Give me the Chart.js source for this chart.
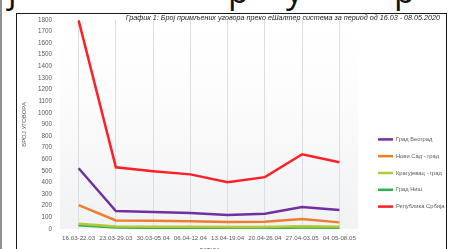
<!DOCTYPE html>
<html>
<head>
<meta charset="utf-8">
<script src="https://cdn.jsdelivr.net/npm/chart.js@4"></script>
<style>
  html, body { margin: 0; padding: 0; background: #fff; overflow: hidden; }
  body { width: 454px; height: 249px; position: relative; }
  #pageEdge { position: absolute; left: 0; top: 0; width: 2px; height: 249px; background: #8f8f8f; }
  #heading span { position: absolute; top: -33px; font: 34px "Open Sans", sans-serif; color: #111; }
  #frame { position: absolute; left: 16px; top: 13px; width: 429px; height: 300px; border: 1.5px solid #1a1a1a; }
  #chartTitle { position: absolute; right: 14px; top: 13px; font: italic 7.2px "Liberation Sans", sans-serif; color: #222; white-space: nowrap; }
  #wrap { position: absolute; left: 17px; top: 8px; width: 437px; height: 330px; }
</style>
</head>
<body>
<div id="pageEdge"></div>
<div id="heading"><span style="left:8px">ј</span><span style="left:228px">р</span><span style="left:286px">у</span><span style="left:394px">р</span></div>
<div id="frame"></div>
<div id="wrap"><canvas id="myChart"></canvas></div>
<div id="chartTitle">График 1: Број примљених уговора преко еШалтер система за период од 16.03 - 08.05.2020</div>
<script>
const weeks = ['16.03-22.03', '23.03-29.03', '30.03-05.04', '06.04-12.04', '13.04-19.04', '20.04-26.04', '27.04-03.05', '04.05-08.05'];
const beograd = [523, 154, 146, 137, 120, 132, 189, 163];
const noviSad = [206, 73, 72, 66, 60, 63, 86, 57];
const kragujevac = [45, 22, 20, 19, 17, 18, 24, 20];
const nis = [32, 12, 10, 10, 9, 9, 12, 11];
const srbija = [1795, 531, 497, 470, 403, 446, 643, 574];

const tickColor = '#595959';

// light gradient behind the plot, like the Excel original
const plotBackground = {
    id: 'plotBackground',
    beforeDraw(chart) {
        const {ctx, chartArea} = chart;
        const g = ctx.createLinearGradient(0, chartArea.top, 0, chartArea.bottom);
        g.addColorStop(0, '#ffffff');
        g.addColorStop(0.3, '#fdfdfd');
        g.addColorStop(1, '#f1f2f4');
        ctx.save();
        ctx.fillStyle = g;
        ctx.fillRect(chartArea.left, chartArea.top, chartArea.right - chartArea.left, chartArea.bottom - chartArea.top);
        ctx.restore();
    }
};

function series(label, data, color) {
    return {
        label: label,
        data: data,
        borderColor: color,
        backgroundColor: color,
        borderWidth: 2.5,
        pointRadius: 0,
        tension: 0
    };
}

const ctx = document.getElementById('myChart').getContext('2d');
new Chart(ctx, {
    type: 'line',
    data: {
        labels: weeks,
        datasets: [
            series('Град Београд', beograd, '#7030a0'),
            series('Нови Сад - град', noviSad, '#ed7d31'),
            series('Крагујевац - град', kragujevac, '#b3c83a'),
            series('Град Ниш', nis, '#2db24a'),
            series('Република Србија', srbija, '#fe1f27')
        ]
    },
    options: {
        responsive: true,
        maintainAspectRatio: false,
        animation: false,
        layout: { padding: 0 },
        plugins: {
            tooltip: { enabled: false },
            legend: {
                position: 'right',
                align: 'center',
                maxWidth: 87,
                labels: {
                    color: tickColor,
                    font: { family: 'Liberation Sans', size: 5.8 },
                    usePointStyle: true,
                    pointStyle: 'line',
                    boxWidth: 15,
                    pointStyleWidth: 15,
                    boxHeight: 6,
                    padding: 11
                }
            }
        },
        scales: {
            x: {
                offset: true,
                grid: { display: true, offset: false, color: '#dedede', lineWidth: 1, drawTicks: false },
                border: { display: false },
                ticks: {
                    color: tickColor,
                    font: { family: 'Liberation Sans', size: 6.2 },
                    padding: 6,
                    maxRotation: 0,
                    autoSkip: false
                },
                title: {
                    display: true,
                    text: 'ДАТУМ',
                    color: tickColor,
                    font: { family: 'Liberation Sans', size: 6 },
                    padding: { top: 0, bottom: 84 }
                },
                afterFit(scale) { scale.height = 109; }
            },
            y: {
                min: 0,
                max: 1800,
                grid: { display: false, drawTicks: false },
                border: { display: false },
                ticks: {
                    stepSize: 100,
                    color: tickColor,
                    font: { family: 'Liberation Sans', size: 6.3 },
                    padding: 8,
                    callback: v => String(v)
                },
                title: {
                    display: true,
                    text: 'БРОЈ УГОВОРА',
                    color: tickColor,
                    font: { family: 'Liberation Sans', size: 6 },
                    padding: 4
                },
                afterFit(scale) { scale.width = 43; }
            },
            gap: {
                position: 'right',
                display: true,
                grid: { display: false, drawTicks: false },
                border: { display: false },
                ticks: { display: false },
                afterFit(scale) { scale.width = 9; }
            }
        }
    },
    plugins: [plotBackground]
});
</script>
</body>
</html>
